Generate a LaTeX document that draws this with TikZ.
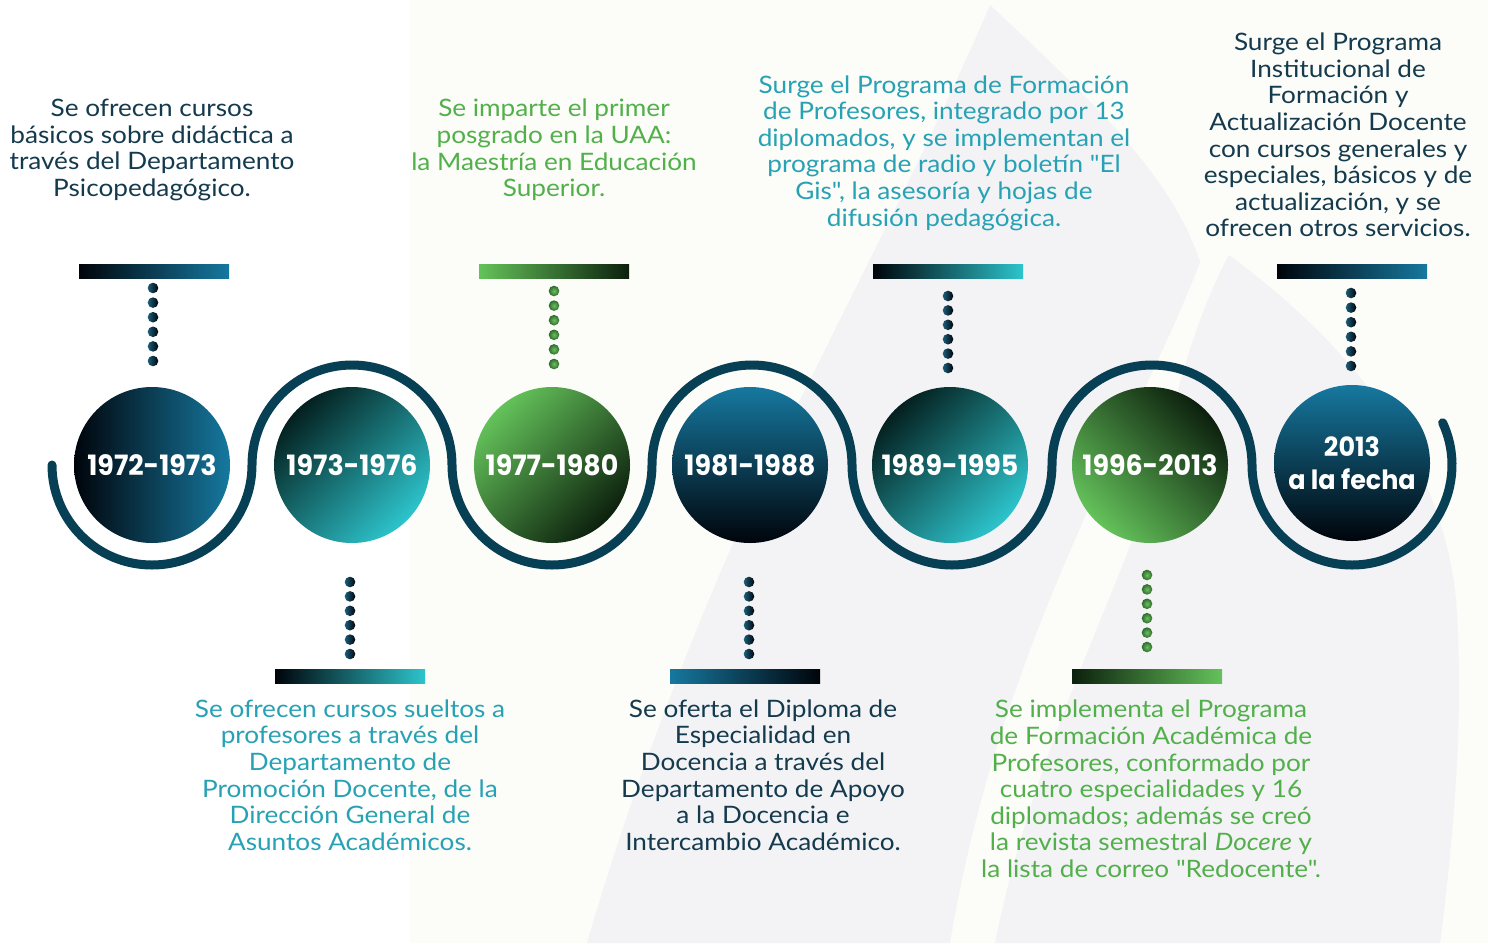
\documentclass[tikz,border=0pt]{standalone}
\usepackage{fontspec}
\setmainfont{Lato}[FakeStretch=1.09,Ligatures=TeXOff]
\newfontfamily\yearfont{Poppins}[FakeStretch=0.96]
\definecolor{wavec}{HTML}{073F55}
\definecolor{darktxt}{HTML}{143A4E}
\definecolor{cyantxt}{HTML}{27A2B5}
\definecolor{greentxt}{HTML}{52B04B}
\definecolor{blk}{HTML}{00040A}
\definecolor{blu}{HTML}{16789F}
\definecolor{cya}{HTML}{2DC4CC}
\definecolor{dkteal}{HTML}{04201F}
\definecolor{lgreen}{HTML}{64C25A}
\definecolor{dgreen}{HTML}{0C200D}
\definecolor{flame}{HTML}{F3F3F6}
\definecolor{cream}{HTML}{FCFCF8}
\definecolor{dotlight}{HTML}{1D5F7C}
\definecolor{dotgreenl}{HTML}{6CBF62}
\definecolor{dotgreend}{HTML}{2E6B2B}
\begin{document}
\begin{tikzpicture}[x=1pt,y=-1pt,
  yr/.style={circle,minimum size=156,inner sep=0pt,text=white,
    font=\yearfont\bfseries\fontsize{28}{32}\selectfont,align=center},
  bar/.style={rectangle,minimum width=150,minimum height=14,inner sep=0pt},
  desc/.style={align=center,font=\fontsize{24}{26.6}\selectfont,inner sep=0pt},
  wave/.style={draw=wavec,line width=9,line cap=round},
  bdot/.style={left color=dotlight,right color=blk},
  gdot/.style={inner color=dotgreenl,outer color=dotgreend}]
\useasboundingbox (0,0) rectangle (1488,943);
% background
\fill[white] (0,0) rectangle (1488,943);
\fill[cream] (410,0) rectangle (1488,943);
\fill[flame] (587,943) .. controls (640,760) and (720,560) .. (800,400)
  .. controls (880,240) and (950,100) .. (990,5)
  .. controls (1080,90) and (1170,170) .. (1200,262)
  .. controls (1140,420) and (1000,640) .. (950,943) -- cycle;
\fill[flame] (995,943) .. controls (1040,720) and (1140,560) .. (1170,420)
  .. controls (1190,340) and (1210,290) .. (1229,255)
  .. controls (1330,330) and (1440,440) .. (1456,600)
  .. controls (1465,720) and (1452,850) .. (1440,943) -- cycle;
% wave line
\draw[wave] (52,465) arc[start angle=180,end angle=0,radius=100]
  arc[start angle=180,end angle=360,radius=100]
  arc[start angle=180,end angle=0,radius=100]
  arc[start angle=180,end angle=360,radius=100]
  arc[start angle=180,end angle=0,radius=100]
  arc[start angle=180,end angle=360,radius=100]
  arc[start angle=180,end angle=-25,radius=100];
% circles
\node[yr,left color=blk,right color=blu] (c1) at (152,465) {1972-1973};
\node[yr,top color=dkteal,bottom color=cya,shading angle=45] (c2) at (352,465) {1973-1976};
\node[yr,top color=lgreen,bottom color=dgreen,shading angle=45] (c3) at (552,465) {1977-1980};
\node[yr,top color=blu,bottom color=blk] (c4) at (750,465) {1981-1988};
\node[yr,top color=dkteal,bottom color=cya,shading angle=45] (c5) at (950,465) {1989-1995};
\node[yr,top color=dgreen,bottom color=lgreen,shading angle=-45] (c6) at (1150,465) {1996-2013};
\node[yr,top color=blu,bottom color=blk,font=\yearfont\bfseries\fontsize{26.5}{33}\selectfont] (c7) at (1352,463) {2013\\a la fecha};
% bars
\node[bar,left color=blk,right color=blu] (b1) at (154,271) {};
\node[bar,left color=blk,right color=cya] (b2) at (350,676) {};
\node[bar,left color=lgreen,right color=dgreen] (b3) at (554,271) {};
\node[bar,left color=blu,right color=blk] (b4) at (745,676) {};
\node[bar,left color=blk,right color=cya] (b5) at (948,271) {};
\node[bar,left color=dgreen,right color=lgreen] (b6) at (1147,676) {};
\node[bar,left color=blk,right color=blu] (b7) at (1352,271) {};
% dots
\foreach \i in {0,...,5}{
  \shade[bdot] (153,{288+\i*14.6}) circle[radius=5.3];
  \shade[gdot] (554,{291+\i*14.6}) circle[radius=5.3];
  \shade[bdot] (948,{296+\i*14.4}) circle[radius=5.3];
  \shade[bdot] (1351,{293+\i*14.6}) circle[radius=5.3];
  \shade[bdot] (350,{582+\i*14.4}) circle[radius=5.3];
  \shade[bdot] (749,{582+\i*14.4}) circle[radius=5.3];
  \shade[gdot] (1147,{575+\i*14.4}) circle[radius=5.3];
}
% texts
\node[desc,text=darktxt] (t1) at (152,150) {Se ofrecen cursos\\básicos sobre didáctica a\\través del Departamento\\Psicopedagógico.};
\node[desc,text=greentxt] (t2) at (554,150) {Se imparte el primer\\posgrado en la UAA:\\la Maestría en Educación\\Superior.};
\node[desc,text=cyantxt] (t3) at (944,153) {Surge el Programa de Formación\\de Profesores, integrado por 13\\diplomados, y se implementan el\\programa de radio y boletín "El\\Gis", la asesoría y hojas de\\difusión pedagógica.};
\node[desc,text=darktxt] (t4) at (1338,135) {Surge el Programa\\Institucional de\\Formación y\\Actualización Docente\\con cursos generales y\\especiales, básicos y de\\actualización, y se\\ofrecen otros servicios.};
\node[desc,text=cyantxt] (t5) at (350,775) {Se ofrecen cursos sueltos a\\profesores a través del\\Departamento de\\Promoción Docente, de la\\Dirección General de\\Asuntos Académicos.};
\node[desc,text=darktxt] (t6) at (763,775) {Se oferta el Diploma de\\Especialidad en\\Docencia a través del\\Departamento de Apoyo\\a la Docencia e\\Intercambio Académico.};
\node[desc,text=greentxt] (t7) at (1151,789) {Se implementa el Programa\\de Formación Académica de\\Profesores, conformado por\\cuatro especialidades y 16\\diplomados; además se creó\\la revista semestral \textit{Docere} y\\la lista de correo "Redocente".};
\end{tikzpicture}
\end{document}
